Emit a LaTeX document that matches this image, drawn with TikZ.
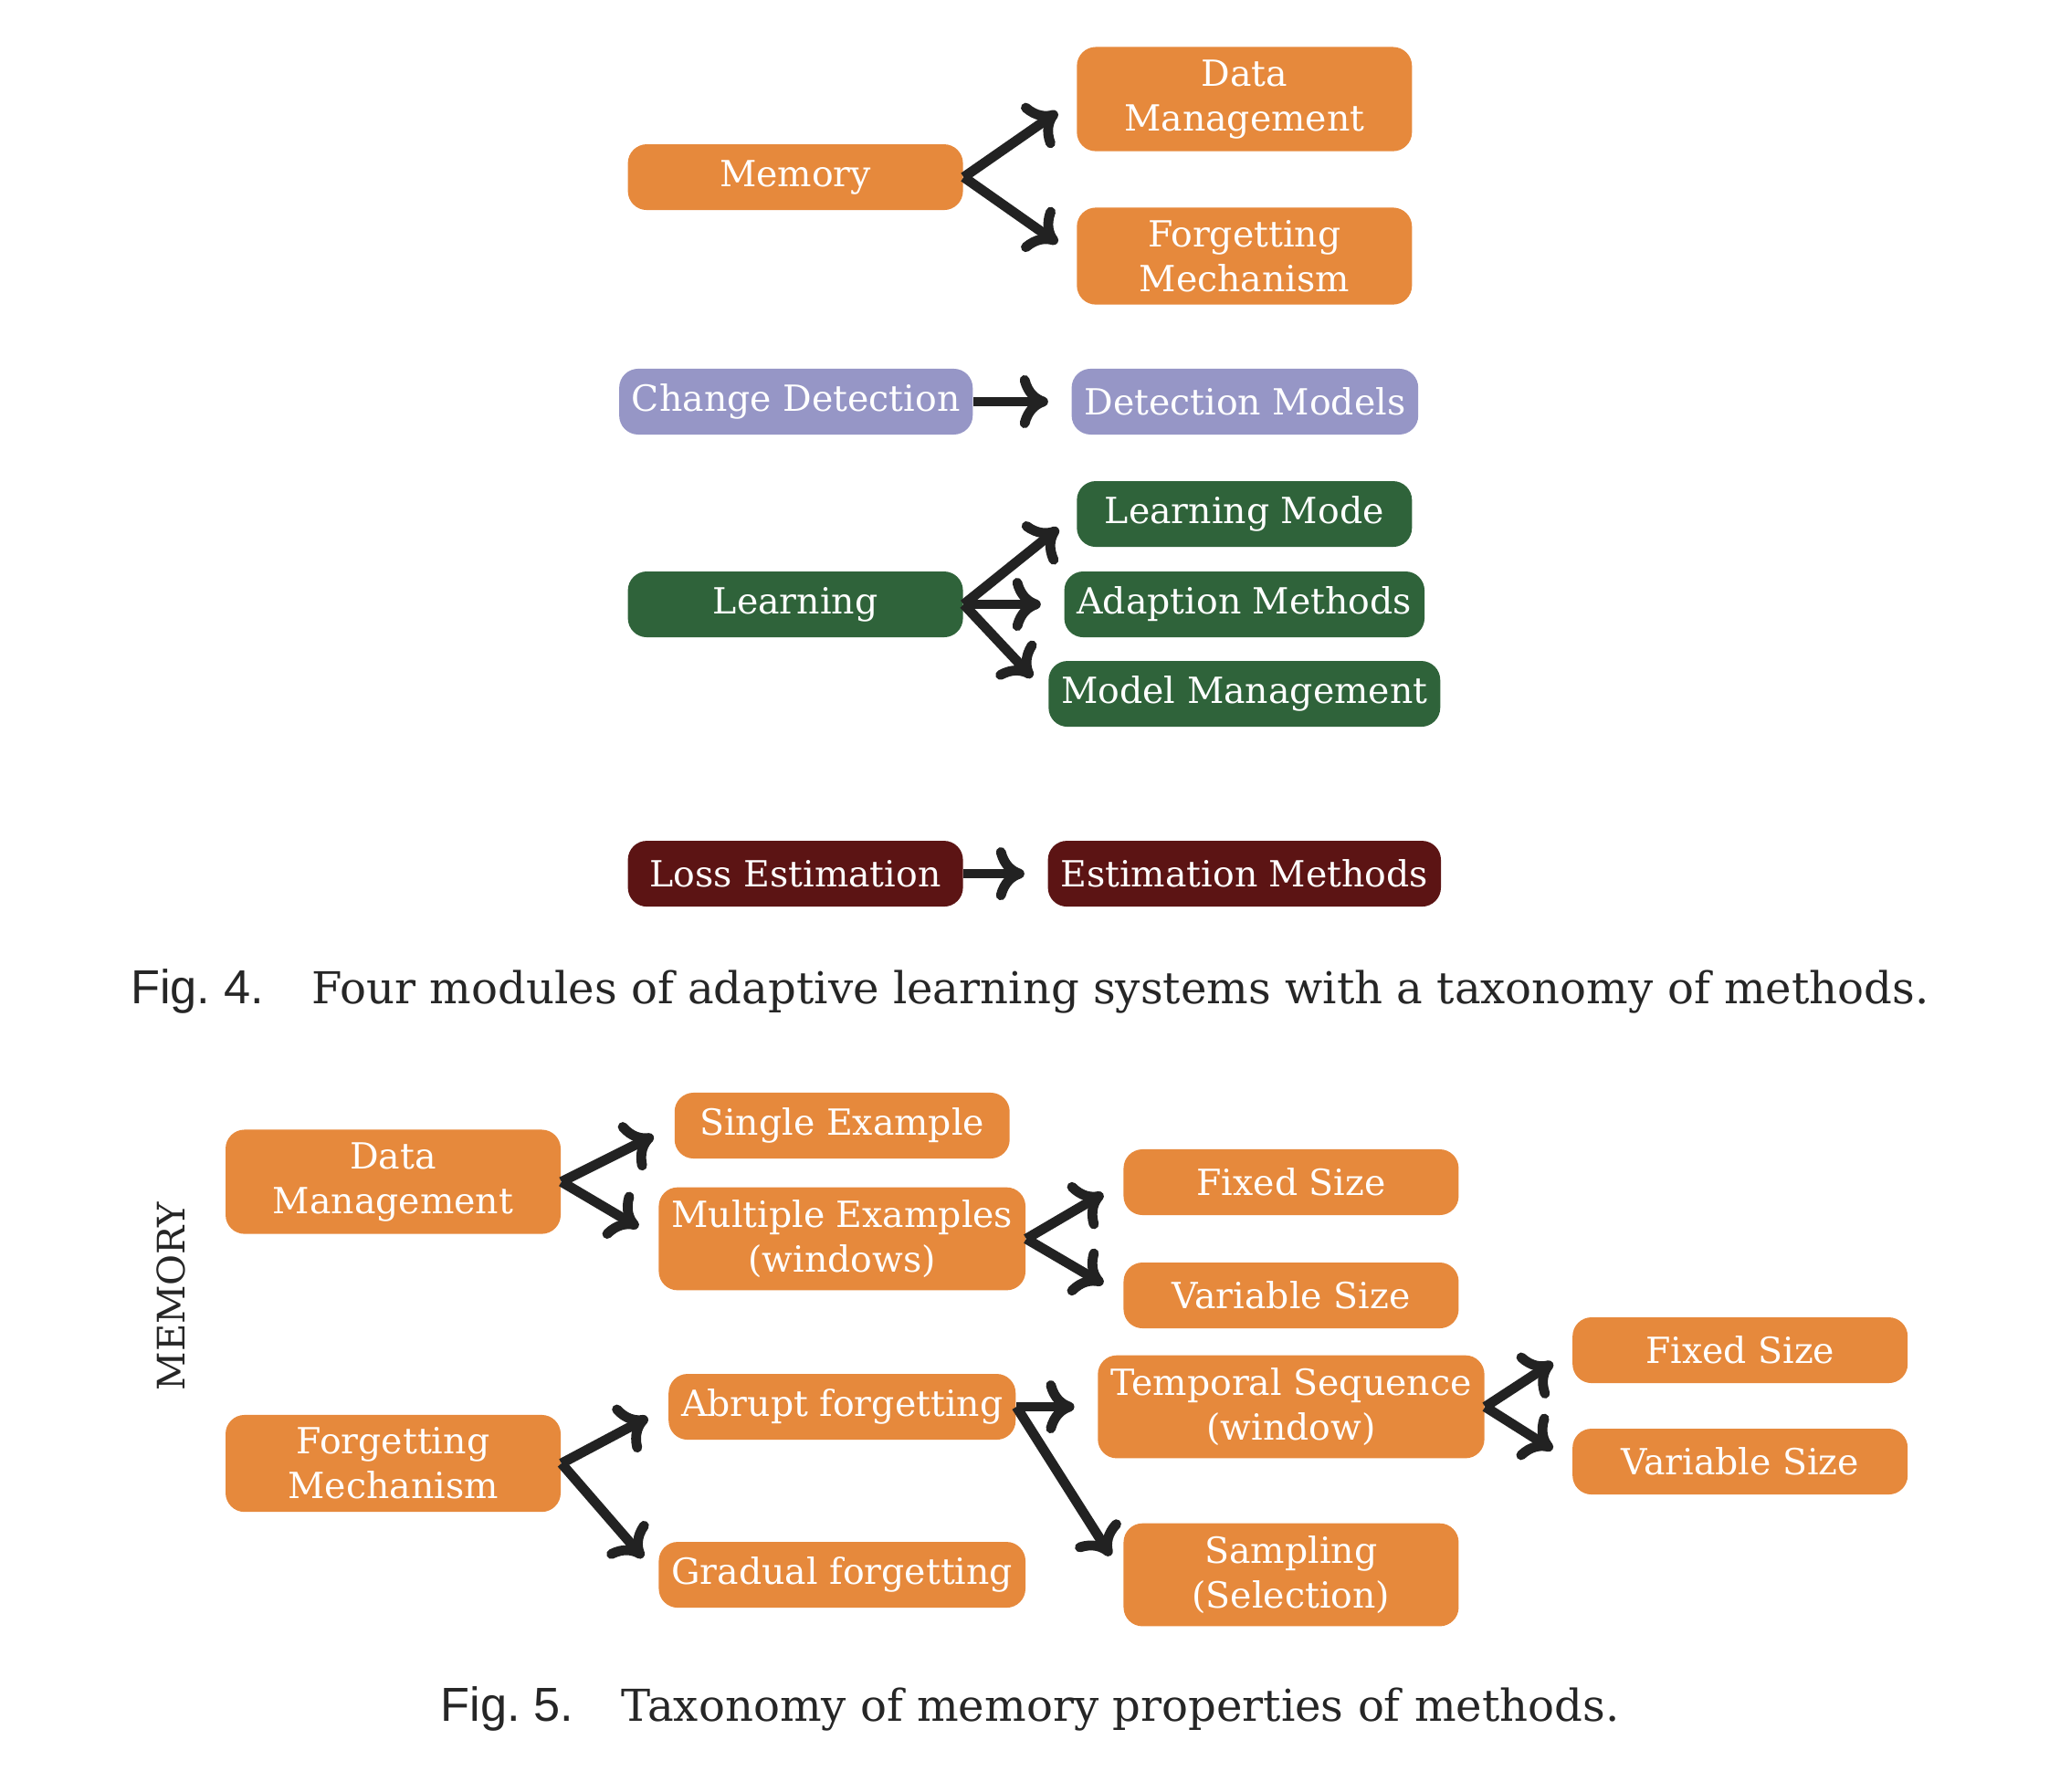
\documentclass[tikz,border=0pt]{standalone}
\usepackage{fontspec}
\setmainfont{DejaVu Serif}
\setsansfont{Liberation Sans}
\usepackage{tikz}
\usetikzlibrary{shapes, arrows.meta, positioning}
\definecolor{boxorange}{RGB}{230,137,60}
\definecolor{boxpurple}{RGB}{150,150,198}
\definecolor{boxgreen}{RGB}{47,99,58}
\definecolor{boxred}{RGB}{92,20,20}
\definecolor{arrowgray}{RGB}{34,34,34}
\tikzstyle{module} = [rectangle, rounded corners=5pt, minimum width=3.107cm, minimum height=0.61cm, text centered, align=center, text=white, font=\fontsize{9.5}{11.8}\selectfont]
\tikzstyle{memnode} = [module, fill=boxorange]
\tikzstyle{detnode} = [module, fill=boxpurple]
\tikzstyle{learnnode} = [module, fill=boxgreen]
\tikzstyle{lossnode} = [module, fill=boxred]
\tikzstyle{branch} = [draw=arrowgray, line width=2.6pt, -{Computer Modern Rightarrow[length=7.5pt, width=14pt]}, shorten >=6pt]
\tikzstyle{caption} = [text=black!85, font=\fontsize{11.6}{14}\selectfont]
\newcommand{\figlabel}[1]{\textsf{\fontsize{12.6}{14}\selectfont Fig.~#1.}\hspace{1.1em}}

\begin{document}
\begin{tikzpicture}[node distance=4.163cm]
\useasboundingbox (0,0) rectangle (19.1,-16.612);
% Fig. 4
\node (mem) [memnode] at (7.375,-1.643) {Memory};
\node (datam) [memnode, right of=mem, yshift=0.724cm] {Data\\Management};
\node (forgm) [memnode, right of=mem, yshift=-0.732cm] {Forgetting\\Mechanism};
\node (chdet) [detnode] at (7.38,-3.725) {Change Detection};
\node (detmod) [detnode, right of=chdet] {Detection Models};
\node (learn) [learnnode] at (7.375,-5.605) {Learning};
\node (lmode) [learnnode, right of=learn, yshift=0.838cm] {Learning Mode};
\node (adapt) [learnnode, right of=learn] {Adaption Methods};
\node (mmgmt) [learnnode, right of=learn, yshift=-0.83cm] {Model Management};
\node (loss) [lossnode] at (7.375,-8.103) {Loss Estimation};
\node (estm) [lossnode, right of=loss] {Estimation Methods};
\draw[branch] (mem.east) -- (datam.west);
\draw[branch] (mem.east) -- (forgm.west);
\draw[branch] (chdet.east) -- (detmod.west);
\draw[branch] (learn.east) -- (lmode.west);
\draw[branch] (learn.east) -- (adapt.west);
\draw[branch] (learn.east) -- (mmgmt.west);
\draw[branch] (loss.east) -- (estm.west);
\node (cap4) [caption] at (9.55,-9.19) {\figlabel{4}Four modules of adaptive learning systems with a taxonomy of methods.};
% Fig. 5
\node (memlbl) [rotate=90, text=black!85, font=\fontsize{10}{12}\selectfont] at (1.583,-12.023) {MEMORY};
\node (dm) [memnode] at (3.645,-10.96) {Data\\Management};
\node (single) [memnode, right of=dm, yshift=0.521cm] {Single Example};
\node (multi) [memnode, right of=dm, yshift=-0.529cm] {Multiple Examples\\(windows)};
\node (fixa) [memnode, right of=multi, yshift=0.525cm] {Fixed Size};
\node (vara) [memnode, right of=multi, yshift=-0.525cm] {Variable Size};
\node (fm) [memnode] at (3.645,-13.572) {Forgetting\\Mechanism};
\node (abrupt) [memnode, right of=fm, yshift=0.525cm] {Abrupt forgetting};
\node (gradual) [memnode, right of=fm, yshift=-1.033cm] {Gradual forgetting};
\node (temp) [memnode, right of=abrupt] {Temporal Sequence\\(window)};
\node (sampl) [memnode, right of=abrupt, yshift=-1.558cm] {Sampling\\(Selection)};
\node (fixb) [memnode, right of=temp, yshift=0.525cm] {Fixed Size};
\node (varb) [memnode, right of=temp, yshift=-0.508cm] {Variable Size};
\draw[branch] (dm.east) -- (single.west);
\draw[branch] (dm.east) -- (multi.west);
\draw[branch] (multi.east) -- (fixa.west);
\draw[branch] (multi.east) -- (vara.west);
\draw[branch] (fm.east) -- (abrupt.west);
\draw[branch] (fm.east) -- (gradual.west);
\draw[branch] (abrupt.east) -- (temp.west);
\draw[branch] (abrupt.east) -- (sampl.west);
\draw[branch] (temp.east) -- (fixb.west);
\draw[branch] (temp.east) -- (varb.west);
\node (cap5) [caption] at (9.55,-15.85) {\figlabel{5}Taxonomy of memory properties of methods.};
\end{tikzpicture}
\end{document}
